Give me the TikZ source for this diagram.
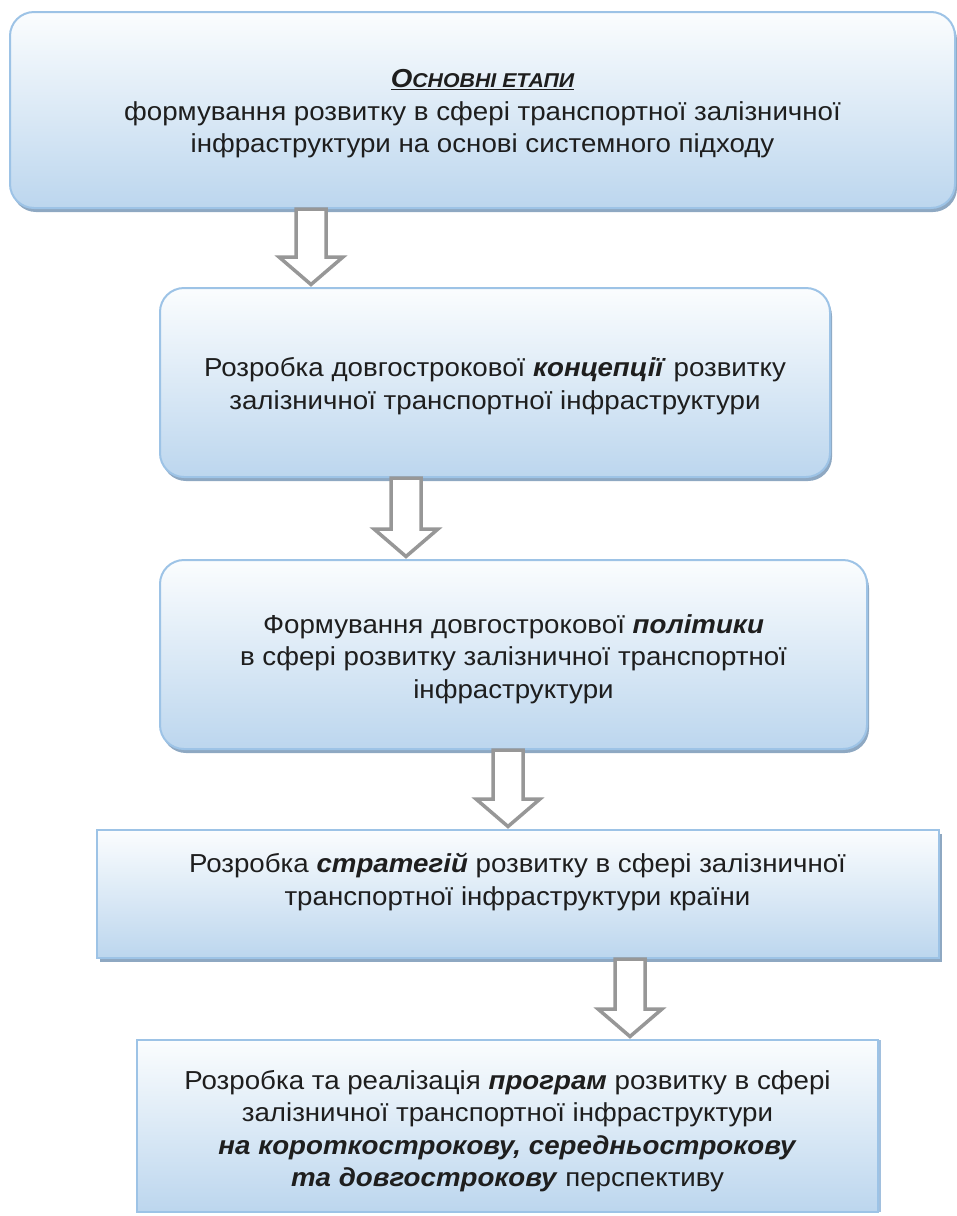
\documentclass[tikz,border=0pt]{standalone}
\usepackage{fontspec}
\setmainfont{Liberation Sans}[FakeStretch=1.065]
\usetikzlibrary{shadows,calc}
\definecolor{bord}{HTML}{9DC3E6}
\definecolor{ftop}{HTML}{FBFDFE}
\definecolor{fbot}{HTML}{BCD6EE}
\definecolor{shad}{HTML}{8EA8C2}
\definecolor{shadlt}{HTML}{A2C0DE}
\definecolor{arr}{HTML}{979797}
\definecolor{txt}{HTML}{1E1E1E}
\newcommand\bi[1]{\textbf{\textit{#1}}}
\newcommand\blkarrow[3]{%
  \draw[blk] let \p0=(#1,0), \p1=(#2.south), \p2=(#3.north) in
    (\x0-15pt,\y1) -- (\x0+15pt,\y1) -- (\x0+15pt,\y2+30pt) -- (\x0+32pt,\y2+30pt)
    -- (\x0,\y2+2.5pt) -- (\x0-32pt,\y2+30pt) -- (\x0-15pt,\y2+30pt) -- cycle;}
\tikzset{
  rbox/.style={draw=bord, line width=2pt, rounded corners=24pt, top color=ftop, bottom color=fbot,
    inner sep=0pt, drop shadow={shadow xshift=2pt, shadow yshift=-4pt, fill=shad, opacity=1}},
  sbox/.style={draw=bord, line width=2pt, top color=ftop, bottom color=fbot, inner sep=0pt},
  lbl/.style={align=center, text=txt, font=\fontsize{26}{32.5}\selectfont, inner sep=0pt},
  blk/.style={draw=arr, line width=3.5pt, fill=white, line join=miter},
}
\begin{document}
\begin{tikzpicture}[x=1pt,y=-1pt]
\useasboundingbox (0,0) rectangle (957,1216);
% boxes
\node[rbox, minimum width=945pt, minimum height=196pt] (b1) at (482.5,110) {};
\node[rbox, minimum width=670pt, minimum height=189pt] (b2) at (495,382.5) {};
\node[rbox, minimum width=707pt, minimum height=189pt] (b3) at (513.5,654.5) {};
\node[sbox, minimum width=842pt, minimum height=128pt,
  drop shadow={shadow xshift=3pt, shadow yshift=-4pt, fill=shad, opacity=1}] (b4) at (518,894) {};
\node[sbox, minimum width=741pt, minimum height=172pt,
  drop shadow={shadow xshift=3pt, shadow yshift=0pt, fill=shadlt, opacity=1}] (b5) at (507.5,1126) {};
% texts
\node[lbl] (t1) at (482.5,114) {{\bfseries\itshape\underline{О{\fontsize{20}{32.5}\selectfont СНОВНІ ЕТАПИ}}}\\
  формування розвитку в сфері транспортної залізничної\\
  інфраструктури на основі системного підходу};
\node[lbl] (t2) at (495,386) {Розробка довгострокової \bi{концепції} розвитку\\
  залізничної транспортної інфраструктури};
\node[lbl] (t3) at (513.5,659) {Формування довгострокової \bi{політики}\\
  в сфері розвитку залізничної транспортної\\ інфраструктури};
\node[lbl] (t4) at (517.5,882) {Розробка \bi{стратегій} розвитку в сфері залізничної\\
  транспортної інфраструктури країни};
\node[lbl] (t5) at (507.5,1131) {Розробка та реалізація \bi{програм} розвитку в сфері\\
  залізничної транспортної інфраструктури\\
  \bi{на короткострокову, середньострокову}\\
  \bi{та довгострокову} перспективу};
% arrows
\blkarrow{311}{b1}{b2}
\blkarrow{406}{b2}{b3}
\blkarrow{508}{b3}{b4}
\blkarrow{630}{b4}{b5}
\end{tikzpicture}
\end{document}
